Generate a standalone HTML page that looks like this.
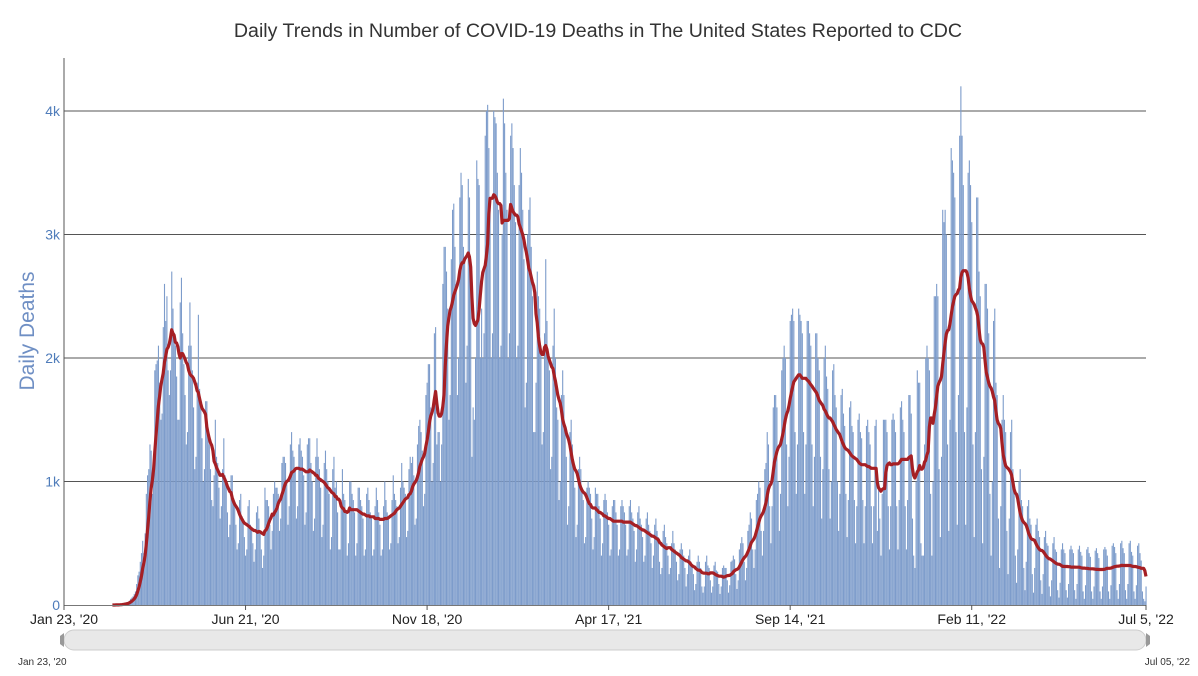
<!DOCTYPE html>
<html><head><meta charset="utf-8"><style>
body{margin:0;background:#fff;}
svg{display:block;font-family:"Liberation Sans",sans-serif;}
</style></head><body>
<svg id="chart" width="1198" height="676">
<text x="598" y="37" text-anchor="middle" font-size="19.6" fill="#333">Daily Trends in Number of COVID-19 Deaths in The United States Reported to CDC</text>
<text transform="translate(34,331) rotate(-90)" text-anchor="middle" font-size="21" fill="#6f8fc4">Daily Deaths</text>
<g id="grid"></g><g id="bars"></g><g id="line"></g><g id="axes"></g>
<g>
<rect x="64" y="630" width="1082" height="20" rx="10" fill="#e8e8e8" stroke="#ccc"/>
<path d="M64 633 L60 636 L60 644 L64 647 Z" fill="#999"/>
<path d="M1146 633 L1150 636 L1150 644 L1146 647 Z" fill="#999"/>
<text x="18" y="665" font-size="10" fill="#333">Jan 23, '20</text>
<text x="1190" y="665" font-size="10" fill="#333" text-anchor="end">Jul 05, '22</text>
</g>
</svg>
<script>
const daily=[0,0,0,0,0,0,0,0,0,0,0,0,0,0,0,0,0,0,0,0,0,0,0,0,0,0,0,0,0,0,0,0,0,0,0,0,0,0,0,0,0,0,
1,2,3,2,4,5,8,10,12,15,18,25,35,50,60,70,90,110,170,240,270,350,420,520,420,580,900,1050,
1100,1300,1250,900,1200,1900,1950,1980,2100,1800,1500,1550,2250,2600,2300,2500,1900,1700,1900,2700,2400,
2200,2100,1850,1500,1500,2450,2650,2200,1950,1700,1300,1400,2100,2450,2100,1900,1600,1100,1200,1800,2350,
1750,1600,1350,1000,1100,1650,1650,1400,1300,1100,850,800,1050,1500,1200,1150,950,700,800,1100,1350,
1050,980,750,550,650,1050,1050,850,800,650,450,500,850,900,720,680,550,400,450,800,850,
650,620,500,350,450,750,800,700,600,450,300,400,950,850,850,800,650,450,600,900,1000,
950,950,900,600,700,1150,1200,1200,1150,1000,650,800,1300,1400,1250,1200,1100,700,800,1300,1350,
1250,1200,1050,650,750,1300,1350,1350,1150,1000,600,700,1200,1350,1200,1100,950,550,650,1150,1250,
1100,1000,900,450,550,1100,1200,950,1000,750,450,450,800,1100,900,850,750,400,500,1000,1000,
900,850,750,400,500,950,950,850,800,700,400,450,900,950,850,750,700,400,450,800,950,
850,750,650,400,450,800,1000,850,750,700,450,500,850,1050,900,850,800,500,550,950,1150,
1000,950,900,550,600,1100,1200,1150,1200,1050,650,700,1300,1450,1500,1400,1250,800,900,1700,1800,
1950,1950,1600,1000,1150,2200,2250,1300,1400,1400,1000,1300,2600,2900,2900,2700,2400,1500,1700,2800,3200,
3250,2900,2600,1700,2000,3300,3500,3400,2900,2800,1800,2100,3450,3300,2800,1200,1600,1500,2000,3600,3450,
3400,2000,2400,2000,2200,3800,4000,4050,3700,3300,2000,2200,4000,3950,3900,3500,3200,2000,2100,3000,4100,
3900,3500,3200,2000,2200,3800,3900,3700,3400,3100,2000,2100,3400,3700,3500,3200,2800,1600,1800,3000,3200,
3300,2900,2500,1400,1400,1800,2700,2500,2400,2100,1300,1400,2200,2800,2300,2000,1900,1100,1200,2100,2400,
2000,1600,1500,850,1000,1700,1900,1700,1400,1200,650,800,1400,1500,1300,1100,950,550,650,1100,1200,
1100,950,850,500,550,950,1000,950,900,700,450,550,950,900,900,800,700,400,500,850,900,
850,750,650,400,450,800,850,850,750,650,400,450,800,850,800,750,650,400,450,800,850,
750,700,600,350,450,750,800,700,650,550,350,400,700,750,650,600,500,300,400,650,700,
600,550,350,250,300,600,650,550,500,400,250,300,500,600,500,450,350,200,250,450,500,
450,400,300,150,250,400,450,350,330,250,120,170,350,400,350,300,150,100,150,350,400,
320,300,200,100,150,320,350,280,270,170,90,150,300,320,300,300,200,100,160,350,360,
400,370,250,130,200,450,500,550,500,350,200,300,600,650,750,700,450,300,450,850,900,
1000,950,600,400,600,1100,1150,1400,1300,800,500,800,1600,1700,1700,1600,1000,600,900,1900,2000,
2100,2000,1300,800,1200,2300,2350,2400,2300,1400,900,1300,2400,2350,2300,2200,1400,900,1300,2300,2300,
2200,2100,1300,800,1200,2200,2200,2000,1900,1200,700,1100,2000,2100,1850,1750,1100,700,1000,1900,1950,
1700,1600,1000,600,900,1700,1750,1550,1450,900,550,850,1600,1650,1450,1400,850,500,800,1500,1550,
1400,1350,850,500,800,1450,1500,1400,1300,800,500,800,1450,1500,600,1000,700,400,900,1500,1500,
1500,1400,800,450,800,1500,1550,1500,1400,800,450,850,1600,1650,1500,1400,800,450,850,1700,1700,
1550,700,400,300,1000,1900,1800,1800,500,400,400,1300,2000,2100,2000,1900,900,400,1000,2500,2500,
2600,2500,1100,550,1200,3200,3100,3200,3000,1300,600,1500,3700,3600,3500,3300,1400,650,1700,3800,4200,
3800,3400,1400,650,1600,3500,3600,3400,3100,1300,550,1400,3300,3300,2700,2500,1100,500,1200,2600,2600,
2400,2200,900,400,1000,2300,2400,1800,1700,700,300,800,1500,1700,1500,1400,600,250,700,1400,1500,
1100,1000,400,180,450,1000,1100,850,800,300,120,350,800,850,700,650,250,100,300,650,700,
600,550,200,90,250,550,600,500,480,150,70,200,500,550,450,430,120,60,180,450,500,
450,420,120,60,170,450,480,450,420,120,50,170,450,480,430,400,110,50,160,450,470,
420,390,110,50,150,440,460,420,380,110,50,150,450,470,450,400,110,50,160,480,500,
470,420,120,50,170,500,520,460,420,120,50,170,500,520,430,400,110,50,160,480,500,
420,360,110,50,30,150];
const yTicks=[0,1000,2000,3000,4000];
const yTickLabels=["0","1k","2k","3k","4k"];
const xTickDays=[0,150,300,450,600,750,894];
const xTickLabels=["Jan 23, '20","Jun 21, '20","Nov 18, '20","Apr 17, '21","Sep 14, '21","Feb 11, '22","Jul 5, '22"];

const NS="http://www.w3.org/2000/svg";
const X0=64,X1=1146,Y0=605,PPK=123.5/1000;
const x=d=>X0+d*(X1-X0)/894;
const y=v=>Y0-v*PPK;
function mk(tag,attrs,parent){const e=document.createElementNS(NS,tag);for(const k in attrs)e.setAttribute(k,attrs[k]);parent.appendChild(e);return e;}
const grid=document.getElementById('grid'),bars=document.getElementById('bars'),line=document.getElementById('line'),axes=document.getElementById('axes');
yTicks.forEach((t,i)=>{
  if(t>0){const g=mk('line',{x1:X0,x2:X1,y1:y(t),y2:y(t),stroke:'#555','stroke-width':1},grid);
  
  }
  const tx=mk('text',{x:X0-4,y:y(t)+5,'text-anchor':'end','font-size':14,fill:'#4f7cba'},axes);
  tx.textContent=yTickLabels[i];
  
  
});
daily.forEach((v,i)=>{
  if(v<=0)return;
  const r=mk('rect',{x:x(i)-0.5,y:y(v),width:1.1,height:v*PPK,fill:'#7d9ccb'},bars);
  
  
});
let pts=[];
for(let i=40;i<daily.length;i++){let s=0,n=0;for(let j=Math.max(0,i-6);j<=i;j++){s+=daily[j];n++;}pts.push(x(i).toFixed(1)+','+y(s/n).toFixed(1));}
const pl=mk('polyline',{points:pts.join(' '),fill:'none',stroke:'#a51f24','stroke-width':3.2,'stroke-linejoin':'round'},line);


const ya=mk('line',{x1:X0,x2:X0,y1:58,y2:Y0,stroke:'#555'},axes);


const xa=mk('line',{x1:X0,x2:X1,y1:Y0+0.5,y2:Y0+0.5,stroke:'#777'},axes);


xTickDays.forEach((d,i)=>{
  const tk=mk('line',{x1:x(d),x2:x(d),y1:Y0,y2:Y0+5,stroke:'#555'},axes);
  
  
  const t=mk('text',{x:x(d),y:Y0+19,'text-anchor':'middle','font-size':14,fill:'#222'},axes);
  t.textContent=xTickLabels[i];
  
  
});
</script>
</body></html>
